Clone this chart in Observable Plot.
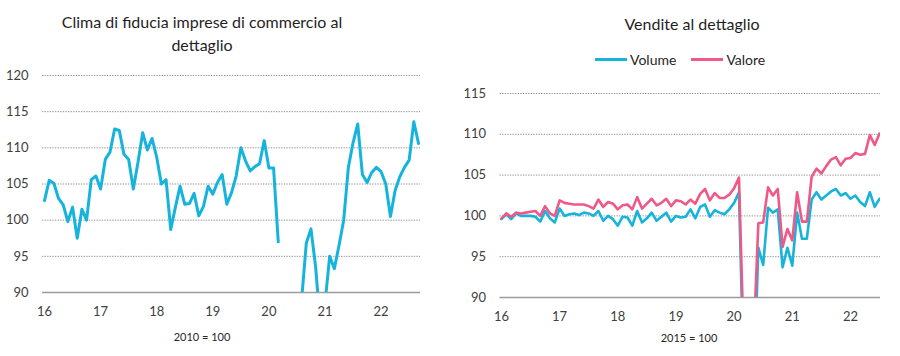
<!DOCTYPE html>
<html>
<head>
<meta charset="utf-8">
<script src="https://cdn.jsdelivr.net/npm/d3@7"></script>
<script src="https://cdn.jsdelivr.net/npm/@observablehq/plot@0.6"></script>
<style>
  html, body { margin: 0; padding: 0; background: #fff; }
  #wrap { position: relative; width: 900px; height: 356px; font-family: Lato, "Open Sans", sans-serif; color: #262626; overflow: hidden; }
  .title { position: absolute; font-size: 16px; line-height: 23px; text-align: center; color: #1f1f1f; }
  .cap { position: absolute; font-size: 11px; color: #262626; text-align: center; }
  .chart { position: absolute; }
  #legend { position: absolute; top: 51px; left: 595px; font-size: 14px; color: #262626; display: flex; align-items: center; }
  .sw { display: inline-block; width: 32px; height: 3px; margin-right: 3px; }
</style>
</head>
<body>
<div id="wrap">
  <div class="title" style="left:52px; width:300px; top:10px;">Clima di fiducia imprese di commercio al<br>dettaglio</div>
  <div class="title" style="left:542px; width:300px; top:12px;">Vendite al dettaglio</div>
  <div id="legend">
    <span class="sw" style="background:#16B4DC"></span><span style="margin-right:15px">Volume</span>
    <span class="sw" style="background:#EF5987"></span><span>Valore</span>
  </div>
  <div id="left" class="chart" style="left:0; top:60px;"></div>
  <div id="right" class="chart" style="left:450px; top:80px;"></div>
  <div class="cap" style="left:152px; width:100px; top:330px;">2010 = 100</div>
  <div class="cap" style="left:639px; width:100px; top:331px;">2015 = 100</div>
</div>
<script>
// Tick labels
const yearLabels = ["16", "17", "18", "19", "20", "21", "22"];
const yTicksLeft = [90, 95, 100, 105, 110, 115, 120];
const yTicksRight = [90, 95, 100, 105, 110, 115];

// Clima di fiducia imprese di commercio al dettaglio (2010 = 100), monthly Jan 2016 - Sep 2022
const fiducia = [
  102.7, 105.5, 105.1, 103.0, 102.1, 99.8, 101.8, 97.5, 101.5, 100.0, 105.6, 106.1,   // 2016
  104.3, 108.4, 109.4, 112.6, 112.4, 109.1, 108.4, 104.3, 108.0, 112.1, 109.7, 111.3, // 2017
  108.7, 105.0, 105.6, 98.7, 101.8, 104.7, 102.2, 102.3, 103.7, 100.6, 101.9, 104.7,  // 2018
  103.6, 105.2, 106.3, 102.2, 103.8, 106.1, 110.0, 108.2, 106.8, 107.4, 107.8, 111.0, // 2019
  107.2, 107.2, 97.0, null, null, 80.0, 84.5, 89.0, 96.8, 98.8, 93.5, 85.5,           // 2020
  88.5, 95.0, 93.3, 96.5, 100.0, 107.3, 110.7, 113.3, 106.3, 105.2, 106.6, 107.3,    // 2021
  106.7, 105.0, 100.5, 104.1, 106.0, 107.3, 108.3, 113.6, 110.6                     // 2022
];

// Vendite al dettaglio (2015 = 100), monthly Jan 2016 - Jul 2022
const volume = [
  99.6, 100.2, 99.6, 100.3, 100.0, 100.0, 100.0, 99.9, 99.3, 100.6, 99.7, 99.2,   // 2016
  100.9, 100.0, 100.2, 100.3, 100.1, 100.4, 100.3, 100.0, 100.6, 99.4, 100.0, 99.6, // 2017
  98.8, 99.9, 99.8, 98.8, 100.6, 99.2, 99.7, 100.4, 99.4, 99.9, 100.4, 99.3,      // 2018
  100.0, 99.8, 99.9, 100.8, 99.7, 101.1, 101.4, 99.9, 100.7, 100.4, 100.2, 100.8, // 2019
  101.6, 102.9, 80.0, 71.0, 78.0, 96.1, 94.0, 101.0, 100.4, 100.8, 93.7, 96.1,    // 2020
  93.9, 100.4, 97.2, 97.2, 102.0, 102.9, 102.0, 102.5, 103.0, 103.3, 102.5, 102.8, // 2021
  102.1, 102.5, 101.7, 101.2, 102.9, 101.1, 102.1                                // 2022
];
const valore = [
  99.7, 100.3, 99.9, 100.4, 100.3, 100.4, 100.5, 100.6, 100.0, 101.2, 100.3, 100.0,  // 2016
  101.9, 101.6, 101.5, 101.4, 101.4, 101.4, 101.2, 100.9, 102.0, 101.1, 101.7, 101.5, // 2017
  100.8, 101.3, 101.4, 100.8, 102.3, 100.9, 101.5, 102.1, 101.3, 101.6, 102.1, 101.2, // 2018
  101.9, 101.8, 101.4, 102.0, 101.5, 102.7, 103.3, 101.9, 102.8, 102.2, 102.2, 102.6, // 2019
  103.4, 104.7, 84.0, 75.0, 84.5, 99.1, 99.2, 103.5, 102.5, 103.3, 96.2, 98.4,       // 2020
  97.0, 102.9, 99.3, 99.3, 104.8, 105.8, 105.2, 106.1, 106.9, 107.2, 106.2, 107.0,    // 2021
  107.1, 107.7, 107.5, 107.6, 109.9, 108.7, 110.1                                   // 2022
];

const BLUE = "#16B4DC";
const PINK = "#EF5987";
const axisStyle = { fontFamily: "Lato, 'Open Sans', sans-serif", fontSize: "13px", color: "#404040", background: "white", overflow: "visible" };
const janTicks = yearLabels.map((_, k) => k * 12);
const yearFmt = i => yearLabels[Math.round(i / 12)];

const leftChart = Plot.plot({
  width: 450, height: 265,
  marginLeft: 42, marginRight: 30, marginTop: 15, marginBottom: 33,
  x: { domain: [-0.43, fiducia.length - 1 + 0.43], axis: null },
  y: { domain: [90, 120], axis: null },
  style: axisStyle,
  marks: [
    Plot.ruleY(yTicksLeft.filter(v => v > 90), { stroke: "#8f8f8f", strokeWidth: 1, strokeDasharray: "1.3,1.3" }),
    Plot.ruleY([90], { stroke: "#9b9b9b", strokeWidth: 1.3 }),
    Plot.axisY({ ticks: yTicksLeft, tickSize: 0, tickPadding: 14 }),
    Plot.axisX({ ticks: janTicks, tickFormat: yearFmt, tickSize: 0, tickPadding: 14 }),
    Plot.lineY(fiducia, { x: (d, i) => i, y: d => d, stroke: BLUE, strokeWidth: 3, clip: true })
  ]
});
document.getElementById("left").append(leftChart);

const rightChart = Plot.plot({
  width: 450, height: 245,
  marginLeft: 49.5, marginRight: 20, marginTop: 13, marginBottom: 28,
  x: { domain: [-0.3, volume.length - 1 + 0.2], axis: null },
  y: { domain: [90, 115], axis: null },
  style: axisStyle,
  marks: [
    Plot.ruleY(yTicksRight.filter(v => v > 90), { stroke: "#8f8f8f", strokeWidth: 1, strokeDasharray: "1.3,1.3" }),
    Plot.ruleY([90], { stroke: "#9b9b9b", strokeWidth: 1.3 }),
    Plot.axisY({ ticks: yTicksRight, tickSize: 0, tickPadding: 14 }),
    Plot.axisX({ ticks: janTicks, tickFormat: yearFmt, tickSize: 0, tickPadding: 14 }),
    Plot.lineY(volume, { x: (d, i) => i, y: d => d, stroke: BLUE, strokeWidth: 2.6, clip: true }),
    Plot.lineY(valore, { x: (d, i) => i, y: d => d, stroke: PINK, strokeWidth: 2.6, clip: true })
  ]
});
document.getElementById("right").append(rightChart);
</script>
</body>
</html>
